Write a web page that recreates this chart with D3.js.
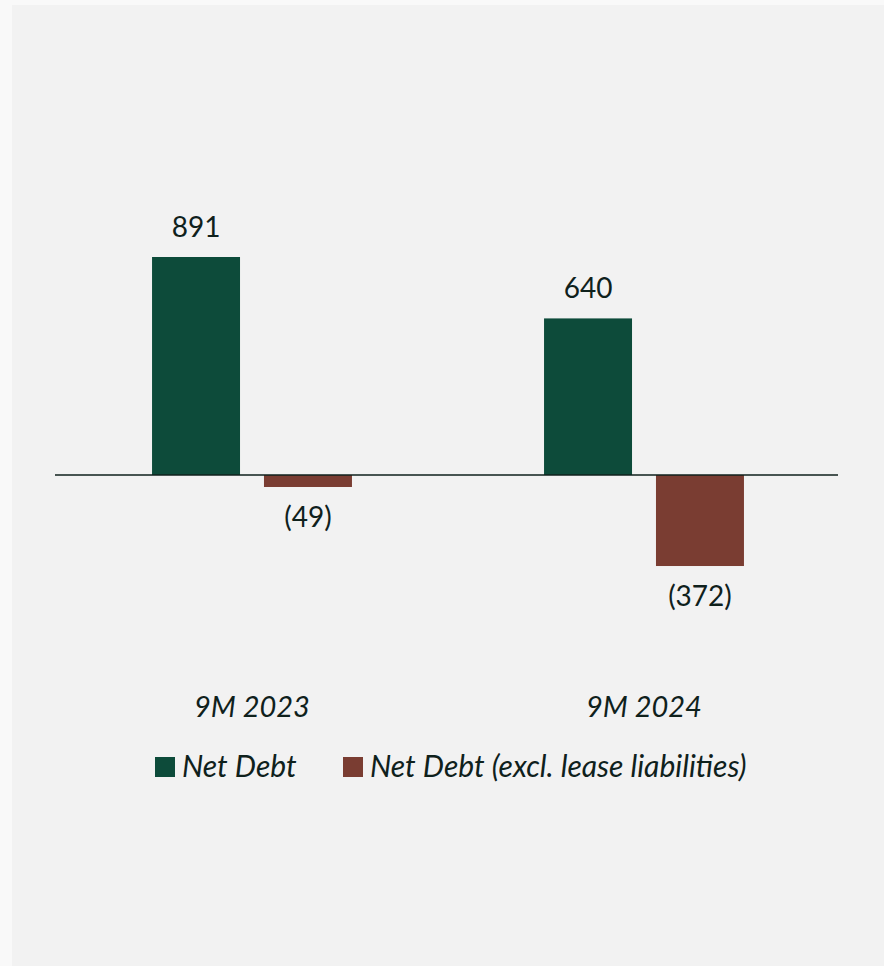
<!DOCTYPE html>
<html>
<head>
<meta charset="utf-8">
<script src="https://cdn.jsdelivr.net/npm/d3@7"></script>
<style>
  body { margin: 0; background: #f9f9f9; }
  svg { display: block; }
  text { font-family: Lato, "Open Sans", sans-serif; fill: #0f211c; }
</style>
</head>
<body>
<div id="chart"></div>
<script>
// data
var periods = ["9M 2023", "9M 2024"];
var seriesNames = ["Net Debt", "Net Debt (excl. lease liabilities)"];
var netDebt = [891, 640];
var netDebtExLease = [-49, -372];
var colors = ["#0d4b3a", "#7a3d32"];

var width = 884, height = 966;

var svg = d3.select("#chart").append("svg")
    .attr("width", width)
    .attr("height", height);

// panel background
svg.append("rect")
    .attr("x", 12).attr("y", 5)
    .attr("width", width - 12).attr("height", height - 5)
    .attr("fill", "#f2f2f2");

var rows = [];
periods.forEach(function(p, i) {
    rows.push({ period: p, series: seriesNames[0], value: netDebt[i], idx: 0 });
    rows.push({ period: p, series: seriesNames[1], value: netDebtExLease[i], idx: 1 });
});

var x0 = d3.scaleBand().domain(periods).range([56, 840])
    .paddingInner(0.49).paddingOuter(0.245);
var x1 = d3.scaleBand().domain(seriesNames).range([0, x0.bandwidth()])
    .paddingInner(0.214).paddingOuter(0);
var y = d3.scaleLinear().domain([0, d3.max(netDebt)]).range([475, 257]);

var fmt = function(v) { return v < 0 ? "(" + Math.abs(v) + ")" : String(v); };

// bars
svg.selectAll(".bar")
    .data(rows)
    .enter().append("rect")
    .attr("class", "bar")
    .attr("x", function(d) { return x0(d.period) + x1(d.series); })
    .attr("y", function(d) { return d.value >= 0 ? y(d.value) : y(0); })
    .attr("width", x1.bandwidth())
    .attr("height", function(d) { return Math.abs(y(d.value) - y(0)); })
    .attr("fill", function(d) { return colors[d.idx]; });

// value labels
svg.selectAll(".lbl")
    .data(rows)
    .enter().append("text")
    .attr("class", "lbl")
    .attr("x", function(d) { return x0(d.period) + x1(d.series) + x1.bandwidth() / 2; })
    .attr("y", function(d) { return d.value >= 0 ? y(d.value) - 20 : y(d.value) + 40; })
    .attr("text-anchor", "middle")
    .attr("font-size", 28)
    .text(function(d) { return fmt(d.value); });

// zero line
svg.append("line")
    .attr("x1", 55).attr("x2", 838)
    .attr("y1", y(0)).attr("y2", y(0))
    .attr("stroke", "#0f211c").attr("stroke-width", 1.5);

// category labels
svg.selectAll(".cat")
    .data(periods)
    .enter().append("text")
    .attr("class", "cat")
    .attr("x", function(d) { return x0(d) + x0.bandwidth() / 2; })
    .attr("y", 717)
    .attr("text-anchor", "middle")
    .attr("font-size", 29)
    .attr("font-style", "italic")
    .text(function(d) { return d; });

// legend
var legendX = [155, 343];
var legend = svg.selectAll(".leg")
    .data(seriesNames)
    .enter().append("g")
    .attr("class", "leg")
    .attr("transform", function(d, i) { return "translate(" + legendX[i] + ",757)"; });
legend.append("rect")
    .attr("width", 20).attr("height", 20)
    .attr("fill", function(d, i) { return colors[i]; });
legend.append("text")
    .attr("x", 27).attr("y", 20)
    .attr("font-size", 30)
    .attr("font-style", "italic")
    .text(function(d) { return d; });
</script>
</body>
</html>
